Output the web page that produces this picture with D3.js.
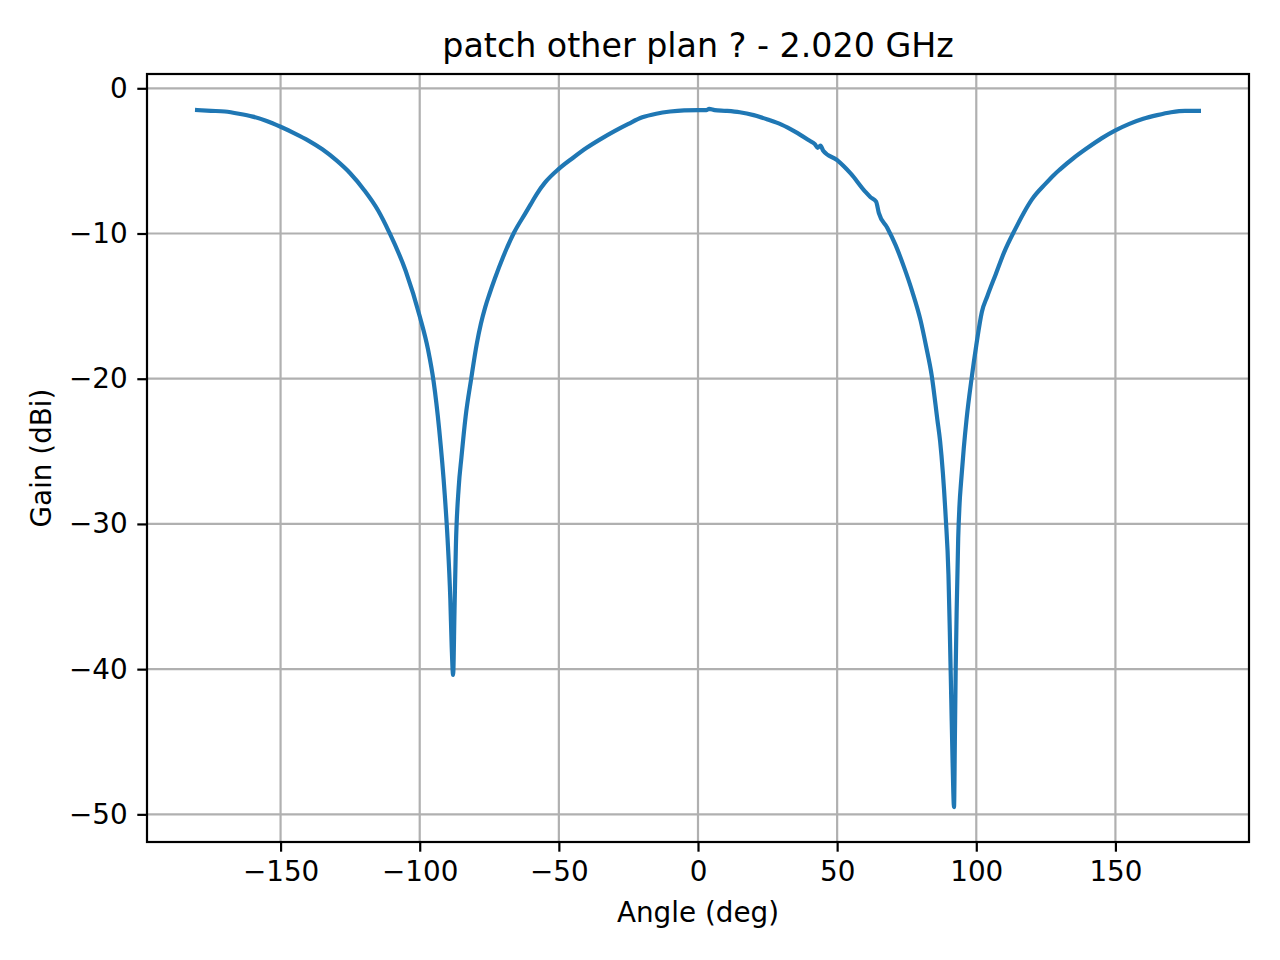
<!DOCTYPE html>
<html>
<head>
<meta charset="utf-8">
<script src="https://cdn.jsdelivr.net/npm/d3@7"></script>
<style>
  body { margin: 0; background: #fff; }
  svg text { font-family: "DejaVu Sans", sans-serif; fill: #000; }
</style>
</head>
<body>
<svg id="chart"></svg>
<script>
const angles = [-180, -175, -170, -165, -160, -155, -150, -145, -140, -135, -130, -125, -120, -115, -111, -105, -100, -97, -95, -93, -91, -90, -89, -88.5, -88, -87.5, -87, -86, -85, -83.5, -81.5, -79.5, -78, -76.5, -75, -73, -70, -66, -62, -60, -58, -55, -50, -45, -40, -35, -30, -25, -20, -15, -10, -5, 0, 3, 4, 6, 10, 15, 20, 25, 30, 35, 40, 42, 43, 44, 45, 50, 55, 60, 62, 64, 65, 68, 71, 74, 77, 80, 82, 84, 86, 87, 88, 89, 90, 90.5, 91, 91.5, 92, 92.3, 92.6, 93, 93.5, 94, 94.5, 95.5, 96.5, 98.3, 100, 102, 104, 107, 110, 114, 117, 120, 125, 128, 130, 135, 140, 145, 150, 155, 160, 165, 170, 175, 180];
const gains = [-1.5, -1.55, -1.6, -1.75, -1.95, -2.25, -2.65, -3.1, -3.6, -4.2, -4.95, -5.85, -7.0, -8.4, -9.9, -12.6, -15.7, -18.0, -20.2, -23.5, -28.0, -31.0, -35.2, -38.5, -40.4, -36.0, -31.5, -27.5, -25.4, -22.6, -20.0, -17.6, -16.2, -15.1, -14.2, -13.1, -11.6, -9.9, -8.6, -7.95, -7.3, -6.5, -5.55, -4.8, -4.1, -3.5, -2.95, -2.45, -2.0, -1.75, -1.6, -1.52, -1.5, -1.5, -1.42, -1.5, -1.55, -1.65, -1.85, -2.15, -2.5, -3.0, -3.6, -3.85, -4.1, -3.95, -4.3, -4.95, -5.9, -7.1, -7.5, -7.8, -8.6, -9.6, -10.8, -12.3, -14.0, -16.0, -17.8, -19.8, -22.8, -24.3, -26.5, -29.5, -33.5, -37.5, -42.0, -46.5, -49.5, -45.0, -40.0, -35.5, -31.0, -28.6, -27.2, -24.8, -22.8, -20.0, -17.7, -15.4, -14.3, -12.8, -11.3, -9.7, -8.6, -7.65, -6.55, -5.95, -5.6, -4.8, -4.1, -3.45, -2.9, -2.45, -2.1, -1.85, -1.65, -1.55, -1.55];
const xTicks = [-150, -100, -50, 0, 50, 100, 150];
const yTicks = [0, -10, -20, -30, -40, -50];
const title = "patch other plan ? - 2.020 GHz";

const width = 1280, height = 960;
const margin = {top: 74, right: 31, bottom: 118, left: 147};
const innerW = width - margin.left - margin.right;
const innerH = height - margin.top - margin.bottom;

const data = angles.map((a, i) => ({a: a, g: gains[i]}));

// matplotlib-style 5% padding
function padded(ext) {
  const m = (ext[1] - ext[0]) * 0.05;
  return [ext[0] - m, ext[1] + m];
}

const x = d3.scaleLinear().domain(padded(d3.extent(angles))).range([0, innerW]);
const y = d3.scaleLinear().domain(padded(d3.extent(gains))).range([innerH, 0]);

const svg = d3.select("#chart").attr("width", width).attr("height", height);
const g = svg.append("g").attr("transform", "translate(" + margin.left + "," + margin.top + ")");

// grid
g.append("g").selectAll("line").data(xTicks).enter().append("line")
  .attr("x1", d => x(d)).attr("x2", d => x(d))
  .attr("y1", 0).attr("y2", innerH)
  .attr("stroke", "#b0b0b0").attr("stroke-width", 2.2);
g.append("g").selectAll("line").data(yTicks).enter().append("line")
  .attr("x1", 0).attr("x2", innerW)
  .attr("y1", d => y(d)).attr("y2", d => y(d))
  .attr("stroke", "#b0b0b0").attr("stroke-width", 2.2);

// curve
const line = d3.line().curve(d3.curveMonotoneX).x(d => x(d.a)).y(d => y(d.g));
g.append("path").datum(data)
  .attr("d", line)
  .attr("fill", "none")
  .attr("stroke", "#1f77b4")
  .attr("stroke-width", 4.2)
  .attr("stroke-linejoin", "round")
  .attr("stroke-linecap", "square");

// axes
const xAxis = d3.axisBottom(x).tickValues(xTicks).tickSize(9.7).tickPadding(9.7).tickSizeOuter(0);
const yAxis = d3.axisLeft(y).tickValues(yTicks).tickSize(9.7).tickPadding(9.7).tickSizeOuter(0);

const gx = g.append("g").attr("transform", "translate(0," + innerH + ")").call(xAxis);
const gy = g.append("g").call(yAxis);
[gx, gy].forEach(ax => {
  ax.select(".domain").remove();
  ax.selectAll(".tick line").attr("stroke", "#000").attr("stroke-width", 2.2);
  ax.selectAll(".tick text").attr("font-size", 27.8).attr("font-family", "DejaVu Sans");
});

// frame
g.append("rect").attr("x", 0).attr("y", 0).attr("width", innerW).attr("height", innerH)
  .attr("fill", "none").attr("stroke", "#000").attr("stroke-width", 2.2);

// labels
svg.append("text")
  .attr("x", margin.left + innerW / 2).attr("y", 57)
  .attr("text-anchor", "middle").attr("font-size", 33.3)
  .text(title);

svg.append("text")
  .attr("x", margin.left + innerW / 2).attr("y", 922)
  .attr("text-anchor", "middle").attr("font-size", 27.8)
  .text("Angle (deg)");

svg.append("text")
  .attr("transform", "translate(51," + (margin.top + innerH / 2) + ") rotate(-90)")
  .attr("text-anchor", "middle").attr("font-size", 27.8)
  .text("Gain (dBi)");
</script>
</body>
</html>
